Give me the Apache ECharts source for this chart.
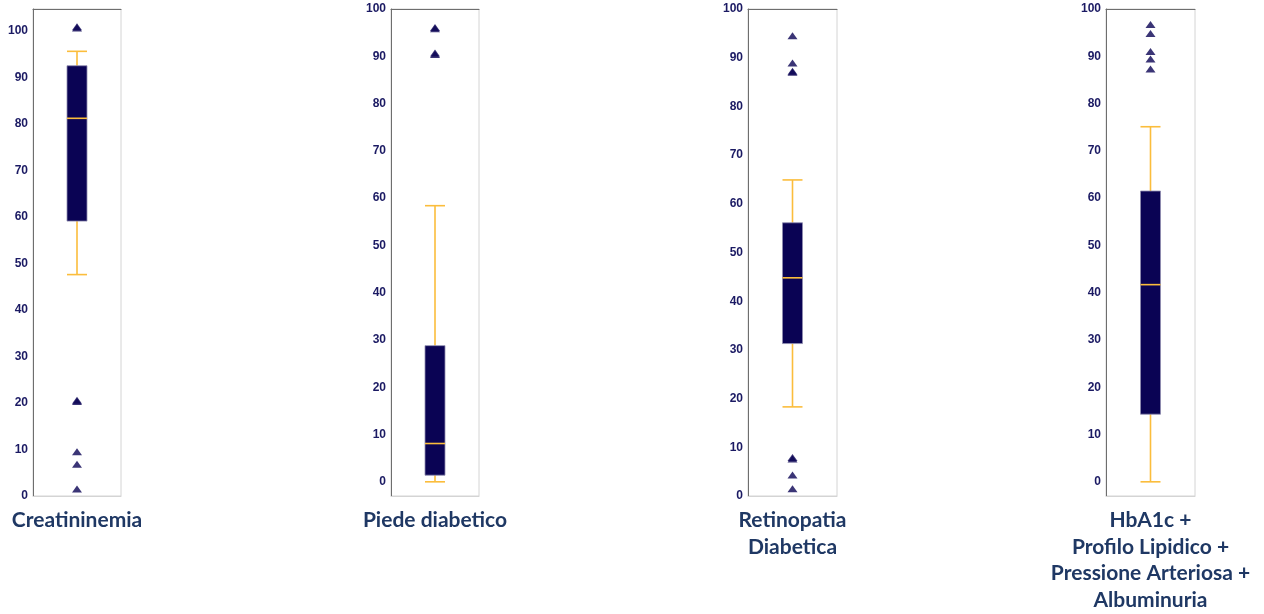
<!DOCTYPE html>
<html>
<head>
<meta charset="utf-8">
<script src="https://cdn.jsdelivr.net/npm/echarts@6/dist/echarts.min.js"></script>
<style>
html,body{margin:0;padding:0;background:#fff;}
#c{width:1264px;height:614px;}
</style>
</head>
<body>
<div id="c"></div>
<script>
// ---- data ----
const categories = ['Creatininemia', 'Piede diabetico', 'Retinopatia\nDiabetica', 'HbA1c +\nProfilo Lipidico +\nPressione Arteriosa +\nAlbuminuria'];
// [whisker low, Q1, median, Q3, whisker high]
const boxCreatininemia = [47.6, 59.1, 81.2, 92.5, 95.6];
const boxPiede = [0, 1.4, 8.1, 28.8, 58.4];
const boxRetinopatia = [18.3, 31.3, 44.8, 56.1, 64.9];
const boxHbA1c = [0, 14.3, 41.7, 61.5, 75.1];
const outCreatininemia = [100.6, 100.9, 20.3, 20.6, 9.5, 6.8, 1.5];
const outPiede = [95.8, 96.1, 90.4, 90.7];
const outRetinopatia = [94.5, 88.9, 87.0, 87.2, 7.6, 7.9, 4.3, 1.5];
const outHbA1c = [96.7, 94.8, 91.0, 89.4, 87.3];
const tickValues = [0, 10, 20, 30, 40, 50, 60, 70, 80, 90, 100];
const yRanges = [[0, 104.7], [-3, 100], [0, 100], [-3, 100]];

const boxes = [boxCreatininemia, boxPiede, boxRetinopatia, boxHbA1c];
const outs = [outCreatininemia, outPiede, outRetinopatia, outHbA1c];

// ---- layout / style ----
const gridLefts = [33, 391, 748, 1106];
const gridWidths = [88, 88, 89, 89];
const NAVY = '#0a0354';
const ORANGE = '#fbbd3c';
const LABEL = '#1b1a63';

const grids = [], xAxes = [], yAxes = [], series = [];
for (let i = 0; i < 4; i++) {
  grids.push({left: gridLefts[i], width: gridWidths[i], top: 9, height: 487,
    show: true, borderColor: '#d4d4d4', borderWidth: 1, backgroundColor: '#fff'});
  xAxes.push({type: 'category', gridIndex: i, data: [categories[i]], position: 'bottom',
    axisLine: {show: true, onZero: false, lineStyle: {color: '#d4d4d4'}}, axisTick: {show: false},
    axisLabel: {interval: 0, margin: 11, fontFamily: 'Lato', fontWeight: 'bold', fontSize: 21,
      lineHeight: 26.5, color: '#1f3864'}});
  xAxes.push({type: 'category', gridIndex: i, data: [categories[i]], position: 'top',
    axisLine: {show: true, onZero: false, lineStyle: {color: '#6e6e6e'}}, axisTick: {show: false},
    axisLabel: {show: false}});
  yAxes.push({type: 'value', gridIndex: i, min: yRanges[i][0], max: yRanges[i][1],
    axisLine: {show: true, onZero: false, lineStyle: {color: '#6e6e6e'}}, axisTick: {show: false},
    splitLine: {show: false},
    axisLabel: {customValues: tickValues, margin: 5, fontFamily: 'Liberation Sans', fontWeight: 'bold',
      fontSize: 12, color: LABEL}});
  series.push({
    type: 'custom', xAxisIndex: i * 2, yAxisIndex: i,
    encode: {x: 0, y: [1, 2, 3, 4, 5]},
    data: [[0].concat(boxes[i])],
    renderItem: function (params, api) {
      const x = api.value(0);
      const pLow = api.coord([x, api.value(1)]);
      const pQ1 = api.coord([x, api.value(2)]);
      const pMed = api.coord([x, api.value(3)]);
      const pQ3 = api.coord([x, api.value(4)]);
      const pHigh = api.coord([x, api.value(5)]);
      const hw = 10;
      const cx = pLow[0];
      const ls = {stroke: ORANGE, lineWidth: 1.6};
      return {type: 'group', children: [
        {type: 'line', shape: {x1: cx, y1: pLow[1], x2: cx, y2: pQ1[1]}, style: ls},
        {type: 'line', shape: {x1: cx, y1: pQ3[1], x2: cx, y2: pHigh[1]}, style: ls},
        {type: 'line', shape: {x1: cx - hw, y1: pLow[1], x2: cx + hw, y2: pLow[1]}, style: ls},
        {type: 'line', shape: {x1: cx - hw, y1: pHigh[1], x2: cx + hw, y2: pHigh[1]}, style: ls},
        {type: 'rect', shape: {x: cx - hw, y: pQ3[1], width: hw * 2, height: pQ1[1] - pQ3[1]},
          style: {fill: NAVY, stroke: '#8f8db0', lineWidth: 0.8}},
        {type: 'line', shape: {x1: cx - hw, y1: pMed[1], x2: cx + hw, y2: pMed[1]}, style: ls}
      ]};
    }
  });
  series.push({
    type: 'scatter', xAxisIndex: i * 2, yAxisIndex: i,
    symbol: 'triangle', symbolSize: [10, 7],
    itemStyle: {color: NAVY},
    data: outs[i].map(v => [0, v])
  });
}

const chart = echarts.init(document.getElementById('c'), null, {renderer: 'canvas'});
chart.setOption({
  animation: false,
  backgroundColor: '#fff',
  grid: grids, xAxis: xAxes, yAxis: yAxes, series: series
});
</script>
</body>
</html>
